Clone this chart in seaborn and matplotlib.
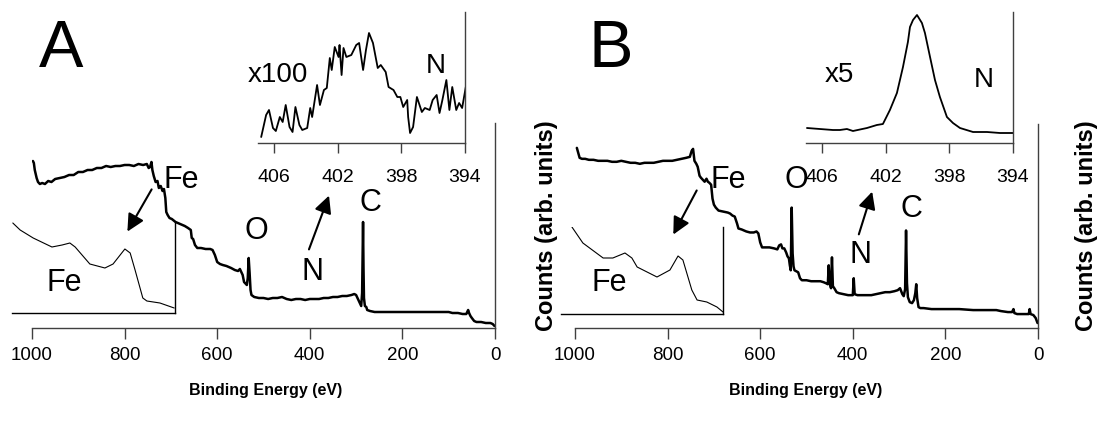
import numpy as np
import pandas as pd
import matplotlib
matplotlib.use('Agg')
import matplotlib.pyplot as plt
import seaborn as sns

# ---- survey spectrum, panel A (binding energy eV, counts arb.)
survey_a_ev = [998, 996, 994, 990, 987, 983, 978, 972, 965, 958, 950, 940, 930, 920, 910, 900,
               890, 880, 870, 860, 850, 840, 830, 820, 810, 800, 790, 780, 770, 760, 752, 748,
               745, 742, 740, 737, 733, 729, 726, 722, 718, 715, 712, 710, 707, 703, 698, 690,
               680, 670, 663, 657, 655, 652, 648, 643, 635, 625, 615, 610, 605, 600, 594, 588,
               580, 570, 562, 555, 551, 548, 545, 542, 538, 536, 534, 532, 530, 528, 526, 520,
               510, 500, 490, 480, 470, 460, 450, 440, 430, 420, 410, 400, 390, 380, 370, 360,
               350, 340, 330, 320, 310, 304, 300, 297, 294, 291, 289, 287, 285, 284, 283, 281,
               278, 276, 270, 260, 250, 240, 220, 200, 180, 160, 140, 120, 100, 92, 80, 70,
               62, 58, 56, 53, 50, 45, 40, 30, 20, 10, 5, 1]
survey_a_counts = [167, 165, 158, 150, 146, 144, 145, 144, 147, 146, 149, 150, 151, 153, 153, 156,
                   156, 158, 158, 160, 160, 162, 161, 162, 162, 163, 163, 162, 164, 163, 164, 160,
                   161, 166, 158, 152, 146, 147, 140, 142, 137, 139, 130, 116, 113, 110, 109, 106,
                   104, 102, 100, 98, 90, 89, 83, 80, 80, 79, 79, 78, 73, 66, 64, 63,
                   62, 60, 58, 57, 59, 56, 53, 46, 44, 43, 50, 70, 55, 38, 33, 31,
                   30, 30, 29, 30, 30, 31, 29, 28, 29, 29, 28, 29, 29, 29, 30, 30,
                   31, 31, 32, 32, 33, 34, 33, 30, 27, 24, 22, 35, 106, 60, 30, 22,
                   21, 18, 17, 16, 16, 16, 16, 16, 16, 16, 16, 16, 16, 15, 15, 14,
                   14, 18, 15, 12, 10, 7, 6, 6, 5, 5, 4, 2]

# ---- survey spectrum, panel B
survey_b_ev = [996, 993, 990, 985, 978, 970, 960, 950, 940, 930, 920, 910, 900, 890, 880, 870,
               860, 850, 840, 830, 820, 810, 800, 790, 780, 770, 760, 752, 748, 745, 742, 738,
               735, 731, 728, 724, 720, 716, 713, 710, 706, 703, 700, 696, 690, 680, 670, 665,
               660, 655, 650, 647, 640, 630, 622, 614, 608, 604, 600, 596, 590, 580, 570, 563,
               559, 555, 552, 548, 544, 541, 538, 536, 534, 532, 530, 528, 526, 522, 518, 514,
               510, 500, 490, 480, 470, 463, 458, 454, 452, 450, 447, 445, 443, 440, 435, 430,
               420, 410, 400, 398, 396, 390, 380, 370, 360, 350, 340, 330, 320, 310, 303, 298,
               293, 290, 287, 285, 283, 281, 277, 272, 268, 265, 263, 261, 258, 254, 247, 230,
               200, 170, 140, 110, 90, 80, 65, 56, 53, 51, 45, 30, 20, 18, 16, 10, 5, 1]
survey_b_counts = [181, 176, 171, 170, 170, 169, 169, 168, 168, 168, 167, 167, 168, 167, 166, 166,
                   165, 166, 166, 166, 167, 168, 168, 168, 169, 170, 171, 172, 178, 180, 168, 165,
                   162, 153, 151, 149, 147, 150, 147, 146, 144, 130, 124, 121, 118, 117, 116, 115,
                   113, 112, 105, 100, 99, 97, 96, 96, 97, 95, 86, 81, 81, 81, 80, 79,
                   83, 84, 80, 80, 76, 72, 70, 63, 58, 121, 75, 62, 58, 57, 56, 50,
                   48, 48, 47, 47, 47, 46, 45, 44, 63, 45, 40, 71, 42, 40, 36, 35,
                   34, 33, 33, 50, 34, 33, 33, 33, 33, 34, 35, 36, 36, 37, 38, 40,
                   34, 32, 39, 98, 45, 31, 26, 25, 28, 35, 44, 30, 21, 20, 20, 19,
                   19, 19, 18, 18, 18, 17, 16, 16, 19, 15, 14, 14, 14, 19, 14, 13, 10, 5]

# ---- Fe 2p insets
fe_a_ev = [739.8, 738.0, 734.8, 730.2, 727.7, 725.8, 724.5, 720.9, 717.2, 715.2, 712.3, 711.0,
           709.8, 707.9, 706.9, 703.7, 700.2]
fe_a_counts = [90, 83, 75, 66, 68, 70, 66, 49, 45, 49, 64, 60, 43, 15, 12, 10, 5]
fe_b_ev = [737.3, 734.6, 729.6, 727.2, 724.2, 722.5, 721.2, 716.3, 713.1, 711.1, 709.9, 707.7,
           706.4, 704.0, 701.5, 700.0]
fe_b_counts = [87, 71, 56, 56, 61, 56, 47, 37, 44, 58, 54, 24, 14, 12, 7, 2]

# ---- N 1s insets
n_a_ev = [406.80, 406.49, 406.31, 406.06, 405.88, 405.63, 405.45, 405.26, 405.02, 404.83, 404.65,
          404.40, 404.22, 403.91, 403.72, 403.60, 403.29, 403.11, 402.86, 402.68, 402.49, 402.37,
          402.18, 401.94, 401.88, 401.75, 401.63, 401.45, 401.14, 400.83, 400.65, 400.40, 400.22,
          400.03, 399.78, 399.48, 399.29, 398.98, 398.80, 398.49, 398.25, 398.06, 397.88, 397.63,
          397.57, 397.45, 397.26, 397.02, 396.71, 396.52, 396.22, 396.03, 395.78, 395.60, 395.42,
          395.17, 394.98, 394.80, 394.55, 394.37, 394.18, 393.95]
n_a_counts = [6, 28, 33, 15, 12, 26, 21, 38, 16, 11, 36, 18, 13, 15, 35, 26, 58, 38, 53, 55, 85,
              73, 96, 86, 98, 68, 95, 86, 88, 98, 100, 73, 93, 110, 100, 75, 78, 71, 56, 53, 46,
              46, 36, 43, 26, 10, 16, 46, 31, 35, 33, 43, 48, 30, 43, 63, 33, 56, 33, 40, 35, 56]
n_b_ev = [406.94, 406.13, 405.31, 404.87, 404.43, 404.05, 403.17, 402.55, 402.17, 401.73, 401.29,
          400.91, 400.60, 400.47, 400.28, 400.03, 399.72, 399.53, 399.21, 398.90, 398.59, 398.15,
          397.77, 397.33, 396.51, 395.63, 394.82, 394.00]
n_b_counts = [15, 14, 13, 13, 14, 12, 15, 18, 19, 33, 50, 76, 101, 116, 123, 128, 120, 110, 86,
              63, 46, 26, 20, 15, 11, 11, 10, 10]

main_ticks = [1000, 800, 600, 400, 200, 0]
n_ticks = [406, 402, 398, 394]

sns.set_style('white')
plt.rcParams['font.family'] = ['Liberation Sans', 'DejaVu Sans']
plt.rcParams['text.color'] = 'black'
plt.rcParams['xtick.color'] = 'black'

W, H = 1099, 426
fig = plt.figure(figsize=(W / 100, H / 100), dpi=100)


def box(x0, y0, x1, y1):
    return [x0 / W, 1 - y1 / H, (x1 - x0) / W, (y1 - y0) / H]


def frame(ax, color='#404040'):
    for s in ['top', 'left']:
        ax.spines[s].set_visible(False)
    for s in ['right', 'bottom']:
        ax.spines[s].set_color(color)
        ax.spines[s].set_linewidth(1.0)
    ax.set_yticks([])
    ax.set_xlabel('')
    ax.set_ylabel('')
    ax.patch.set_alpha(0)


def curve(ax, x, y, lw):
    df = pd.DataFrame({'ev': x, 'counts': y})
    sns.lineplot(data=df, x='ev', y='counts', ax=ax, color='black', lw=lw,
                 estimator=None, sort=False)


panels = [
    dict(main=(32, 123, 495, 328), ev=survey_a_ev, cnt=survey_a_counts,
         inset=(258, 12, 465, 143), nev=n_a_ev, ncnt=n_a_counts,
         fe=(12, 222, 175, 313), fev=fe_a_ev, fcnt=fe_a_counts, fetop=91),
    dict(main=(575, 124, 1038, 328), ev=survey_b_ev, cnt=survey_b_counts,
         inset=(806, 12, 1013, 143), nev=n_b_ev, ncnt=n_b_counts,
         fe=(561, 227, 723, 314), fev=fe_b_ev, fcnt=fe_b_counts, fetop=87),
]

for p in panels:
    ax = fig.add_axes(box(*p['main']))
    curve(ax, p['ev'], p['cnt'], 1.8)
    ax.set_xlim(1000, 0)
    ax.set_ylim(0, 205)
    frame(ax)
    ax.set_xticks(main_ticks)
    ax.tick_params(axis='x', direction='out', length=8, width=1, color='#404040',
                   labelsize=13.5, labelcolor='black', pad=6, bottom=True)

    axn = fig.add_axes(box(*p['inset']))
    curve(axn, p['nev'], p['ncnt'], 1.3)
    axn.set_xlim(407, 394)
    axn.set_ylim(0, 131)
    frame(axn)
    axn.set_xticks(n_ticks)
    axn.tick_params(axis='x', direction='out', length=7, width=1, color='#404040',
                    labelsize=14, labelcolor='black', pad=12, bottom=True)

    axf = fig.add_axes(box(*p['fe']))
    curve(axf, p['fev'], p['fcnt'], 0.8)
    axf.set_xlim(740, 700)
    axf.set_ylim(0, p['fetop'])
    frame(axf, color='black')
    axf.set_xticks([])


def txt(x, y, s, size, **kw):
    fig.text(x / W, 1 - y / H, s, ha='center', va='center', fontsize=size, **kw)


def arrow(x0, y0, x1, y1):
    fig.add_artist(matplotlib.patches.FancyArrowPatch(
        (x0 / W, 1 - y0 / H), (x1 / W, 1 - y1 / H), transform=fig.transFigure,
        arrowstyle='-|>', mutation_scale=26, lw=1.5, color='black'))


# panel A annotations
txt(61, 50, 'A', 48)
txt(278, 75, 'x100', 20)
txt(436, 66, 'N', 20)
txt(181, 180, 'Fe', 22)
arrow(153, 187, 126, 234)
txt(64, 283, 'Fe', 22)
txt(256, 231, 'O', 22)
arrow(308, 252, 330, 193)
txt(313, 272, 'N', 22)
txt(370, 203, 'C', 22)
txt(266, 390, 'Binding Energy (eV)', 11.5, fontweight='bold')
txt(547, 226, 'Counts (arb. units)', 17, fontweight='bold', rotation=90)

# panel B annotations
txt(611, 50, 'B', 48)
txt(839, 75, 'x5', 20)
txt(984, 80, 'N', 20)
txt(728, 180, 'Fe', 22)
arrow(698, 188, 672, 237)
txt(609, 283, 'Fe', 22)
txt(796, 180, 'O', 22)
arrow(858, 237, 873, 189)
txt(860, 255, 'N', 22)
txt(911, 209, 'C', 22)
txt(806, 390, 'Binding Energy (eV)', 11.5, fontweight='bold')
txt(1087, 226, 'Counts (arb. units)', 17, fontweight='bold', rotation=90)

fig.savefig('out.png', dpi=100)
